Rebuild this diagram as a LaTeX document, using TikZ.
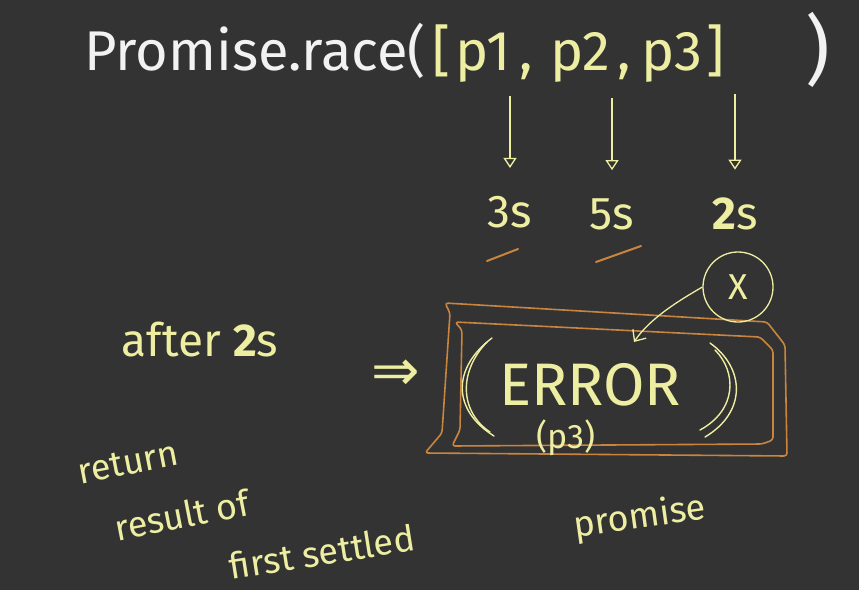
\documentclass[tikz,border=0pt]{standalone}
\usepackage{fontspec}
\setmainfont{Fira Sans}
\newfontfamily\symfont{DejaVu Sans}
\usetikzlibrary{arrows.meta}
\definecolor{bg}{HTML}{333333}
\definecolor{chalkY}{HTML}{EEEEA2}
\definecolor{chalkW}{HTML}{F2F2F2}
\definecolor{chalkO}{HTML}{C9853F}
\begin{document}
\begin{tikzpicture}[x=1pt,y=-1pt,
  yt/.style={text=chalkY, inner sep=0pt},
  wt/.style={text=chalkW, inner sep=0pt},
  big/.style={font=\fontsize{56}{60}\selectfont},
  mid/.style={font=\fontsize{46}{50}\selectfont},
  low/.style={font=\fontsize{36}{40}\selectfont},
  arr/.style={draw=chalkY, line width=1.3pt, -{Triangle[open,length=10pt,width=13pt]}},
  barb/.style={draw=chalkY, line width=1.3pt, -{Straight Barb[length=9pt,width=16pt]}},
  obox/.style={draw=chalkO, line width=1.6pt, line join=round, rounded corners=3pt},
  paren/.style={draw=chalkY, line width=1.4pt, line cap=round},
  uline/.style={draw=chalkO, line width=2pt, line cap=round}
]
\fill[bg] (0,0) rectangle (859,590);
\useasboundingbox (0,0) rectangle (859,590);

% title
\node[wt, big, anchor=base west] (pr) at (84,70) {Promise.race(};
\node[yt, big, anchor=base] (lb) at (442,70) {[};
\node[yt, big, anchor=base] (p1) at (483,70) {p1};
\node[yt, big, anchor=base] (c1) at (526,70) {,};
\node[yt, big, anchor=base] (p2) at (580,70) {p2};
\node[yt, big, anchor=base] (c2) at (624,70) {,};
\node[yt, big, anchor=base] (p3) at (672,70) {p3};
\node[yt, big, anchor=base] (rb) at (716,70) {]};
\node[wt, font=\fontsize{76}{80}\selectfont, anchor=base] (rp) at (818,76) {)};

% timings
\node[yt, mid] (t1) at (510,212) {3s};
\node[yt, mid] (t2) at (612,214) {5s};
\node[yt, mid] (t3) at (735,214) {\textbf{2}s};
\draw[arr, shorten <=14pt, shorten >=28pt] (p1.south -| t1.north) -- (t1.north);
\draw[arr, shorten <=16pt, shorten >=28pt] (p2.south -| t2.north) -- (t2.north);
\draw[arr, shorten <=12pt, shorten >=28pt] (p3.south -| t3.north) -- (t3.north);
\draw[uline] (487,261) -- (518,249);
\draw[uline] (596,262) -- (641,246);

% boxes
\draw[obox] (445,303) -- (767,322) -- (785,345) -- (787,456) -- (425,453) -- (442,433) -- (450,313) -- cycle;
\draw[obox] (455,322) -- (760,337) -- (773,350) -- (773,440) -- (762,444) -- (452,446) -- (460,430) -- (462,330) -- cycle;

% error content
\node[yt, font=\fontsize{60}{64}\selectfont] (err) at (590,385) {ERROR};
\node[yt, font=\fontsize{34}{36}\selectfont] (ep) at (566,438) {(p3)};
\draw[paren] (492,338) .. controls (452,368) and (452,410) .. (494,436);
\draw[paren] (487,342) .. controls (458,372) and (460,412) .. (490,432);
\draw[paren] (710,343) .. controls (745,368) and (747,412) .. (705,437);
\draw[paren] (715,350) .. controls (737,372) and (737,410) .. (700,430);

% cross circle
\node[draw=chalkY, circle, line width=1.3pt, minimum size=70pt, yt, font=\fontsize{36}{36}\selectfont] (xc) at (738,287) {X};
\coordinate (xe) at (634,342);
\draw[barb] (xc.west) .. controls (680,300) and (650,318) .. (xe);

% left side
\node[yt, mid] (aft) at (200,340) {after \textbf{2}s};
\node[yt, font=\symfont\fontsize{58}{58}\selectfont] (imp) at (396,375) {⇒};

% bottom text
\node[yt, low, rotate=11] (ret) at (128,463) {return};
\node[yt, low, rotate=11] (res) at (182,515) {result of};
\node[yt, low, rotate=9] (fs) at (322,552) {first settled};
\node[yt, low, rotate=8] (pm) at (640,518) {promise};
\end{tikzpicture}
\end{document}
